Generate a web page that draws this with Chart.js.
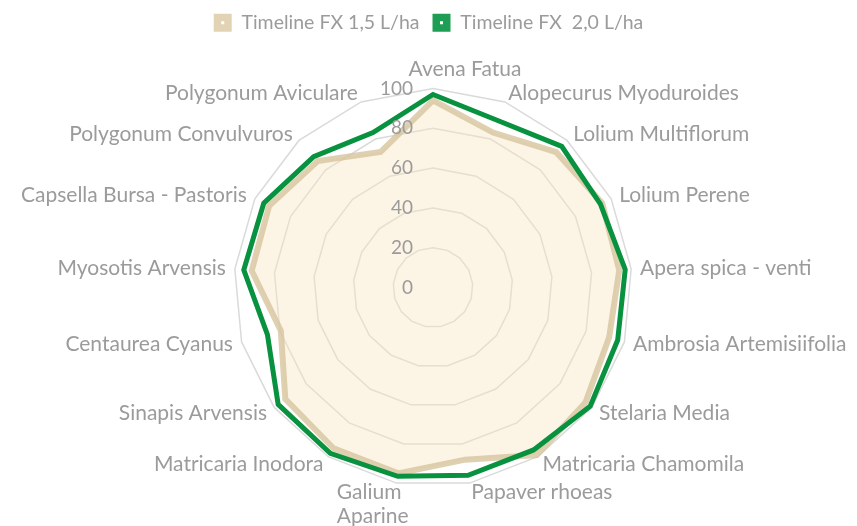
<!DOCTYPE html>
<html lang="pt">
<head>
    <meta charset="UTF-8">
    <title>Timeline FX</title>
    <script src="https://cdn.jsdelivr.net/npm/chart.js"></script>
    <style>
        html, body { margin: 0; padding: 0; background: #fff; }
        .grafico { width: 857px; height: 526px; }
    </style>
</head>
<body>
    <div class="grafico">
        <canvas id="myChart"></canvas>
    </div>
<script>
    // categorias (sentido horário a partir do topo)
    const ervas = [
        'Avena Fatua', 'Alopecurus Myoduroides', 'Lolium Multiflorum', 'Lolium Perene',
        'Apera spica - venti', 'Ambrosia Artemisiifolia', 'Stelaria Media', 'Matricaria Chamomila',
        'Papaver rhoeas', ['Galium', 'Aparine'], 'Matricaria Inodora', 'Sinapis Arvensis',
        'Centaurea Cyanus', 'Myosotis Arvensis', 'Capsella Bursa - Pastoris',
        'Polygonum Convulvuros', 'Polygonum Aviculare'
    ];
    const fx15 = [94, 83.5, 92, 95, 94, 92, 96, 99, 88, 95, 95, 93, 79.5, 91.5, 92, 86, 73];
    const fx20 = [97, 90, 96, 94, 97, 96.5, 99, 96, 96, 96.5, 98, 97.5, 86.5, 95.5, 95, 89, 83.5];
    const escala = [0, 20, 40, 60, 80, 100];

    const familia = 'Lato, "Noto Sans", sans-serif';
    const cinza = '#9b9b9b';

    // centro e raio fixos do radar
    const posicaoRadar = {
        id: 'posicaoRadar',
        afterLayout(chart) {
            const r = chart.scales.r;
            r.xCenter = 433;
            r.yCenter = 287.5;
            r.drawingArea = 199;
        }
    };

    // textos dos eixos e da escala
    const textos = {
        id: 'textos',
        afterDatasetsDraw(chart) {
            const r = chart.scales.r;
            const ctx = chart.ctx;
            ctx.save();
            ctx.fillStyle = cinza;

            ctx.font = '19px ' + familia;
            ctx.textAlign = 'right';
            ctx.textBaseline = 'middle';
            escala.forEach(v => {
                ctx.fillText(String(v), r.xCenter - 20, r.yCenter - r.getDistanceFromCenterForValue(v));
            });

            ctx.font = '21px ' + familia;
            const n = ervas.length;
            ervas.forEach((nome, i) => {
                const p = r.getPointPosition(i, r.drawingArea + 9);
                const s = Math.sin(i * 2 * Math.PI / n);
                if (Math.abs(s) < 0.01) {
                    ctx.textAlign = 'center';
                    ctx.textBaseline = 'bottom';
                    ctx.fillText(nome, p.x + 32, p.y);
                } else if (Array.isArray(nome)) {
                    ctx.textAlign = 'left';
                    ctx.textBaseline = 'middle';
                    nome.forEach((linha, k) => ctx.fillText(linha, p.x - 58, p.y + k * 24));
                } else {
                    ctx.textAlign = s > 0 ? 'left' : 'right';
                    ctx.textBaseline = 'middle';
                    ctx.fillText(nome, p.x, p.y);
                }
            });
            ctx.restore();
        },
        afterDraw(chart) {
            // pontinho branco dentro das caixas da legenda
            const ctx = chart.ctx;
            const lg = chart.legend;
            ctx.save();
            ctx.fillStyle = '#fff';
            lg.legendHitBoxes.forEach(h => {
                const bx = h.left + 9;
                const by = h.top + h.height / 2;
                ctx.fillRect(bx - 1.5, by - 1.5, 3, 3);
            });
            ctx.restore();
        }
    };

    const coresLegenda = ['#e2d3b4', '#1e9e55'];

    const config = {
        type: 'radar',
        data: {
            labels: ervas,
            datasets: [
                {
                    label: 'Timeline FX 1,5 L/ha',
                    data: fx15,
                    fill: true,
                    backgroundColor: 'rgba(247, 228, 190, 0.4)',
                    borderColor: 'rgba(214, 196, 158, 0.8)',
                    borderWidth: 6,
                    pointRadius: 0,
                    order: 2
                },
                {
                    label: 'Timeline FX  2,0 L/ha',
                    data: fx20,
                    fill: false,
                    borderColor: '#08913f',
                    borderWidth: 5,
                    pointRadius: 0,
                    order: 1
                }
            ]
        },
        options: {
            responsive: true,
            maintainAspectRatio: false,
            animation: false,
            scales: {
                r: {
                    min: 0,
                    max: 100,
                    ticks: { display: false, stepSize: 20 },
                    grid: { color: '#dadada', lineWidth: 1.5 },
                    angleLines: { display: false },
                    pointLabels: { display: false }
                }
            },
            plugins: {
                tooltip: { enabled: false },
                legend: {
                    position: 'top',
                    labels: {
                        font: { family: familia, size: 19.5 },
                        color: cinza,
                        boxWidth: 18,
                        boxHeight: 18,
                        padding: 13,
                        generateLabels(chart) {
                            return chart.data.datasets.map((ds, i) => ({
                                text: ds.label,
                                fillStyle: coresLegenda[i],
                                strokeStyle: coresLegenda[i],
                                lineWidth: 0,
                                fontColor: cinza,
                                datasetIndex: i
                            }));
                        }
                    }
                }
            }
        },
        plugins: [posicaoRadar, textos]
    };

    new Chart(document.getElementById('myChart'), config);
</script>
</body>
</html>
